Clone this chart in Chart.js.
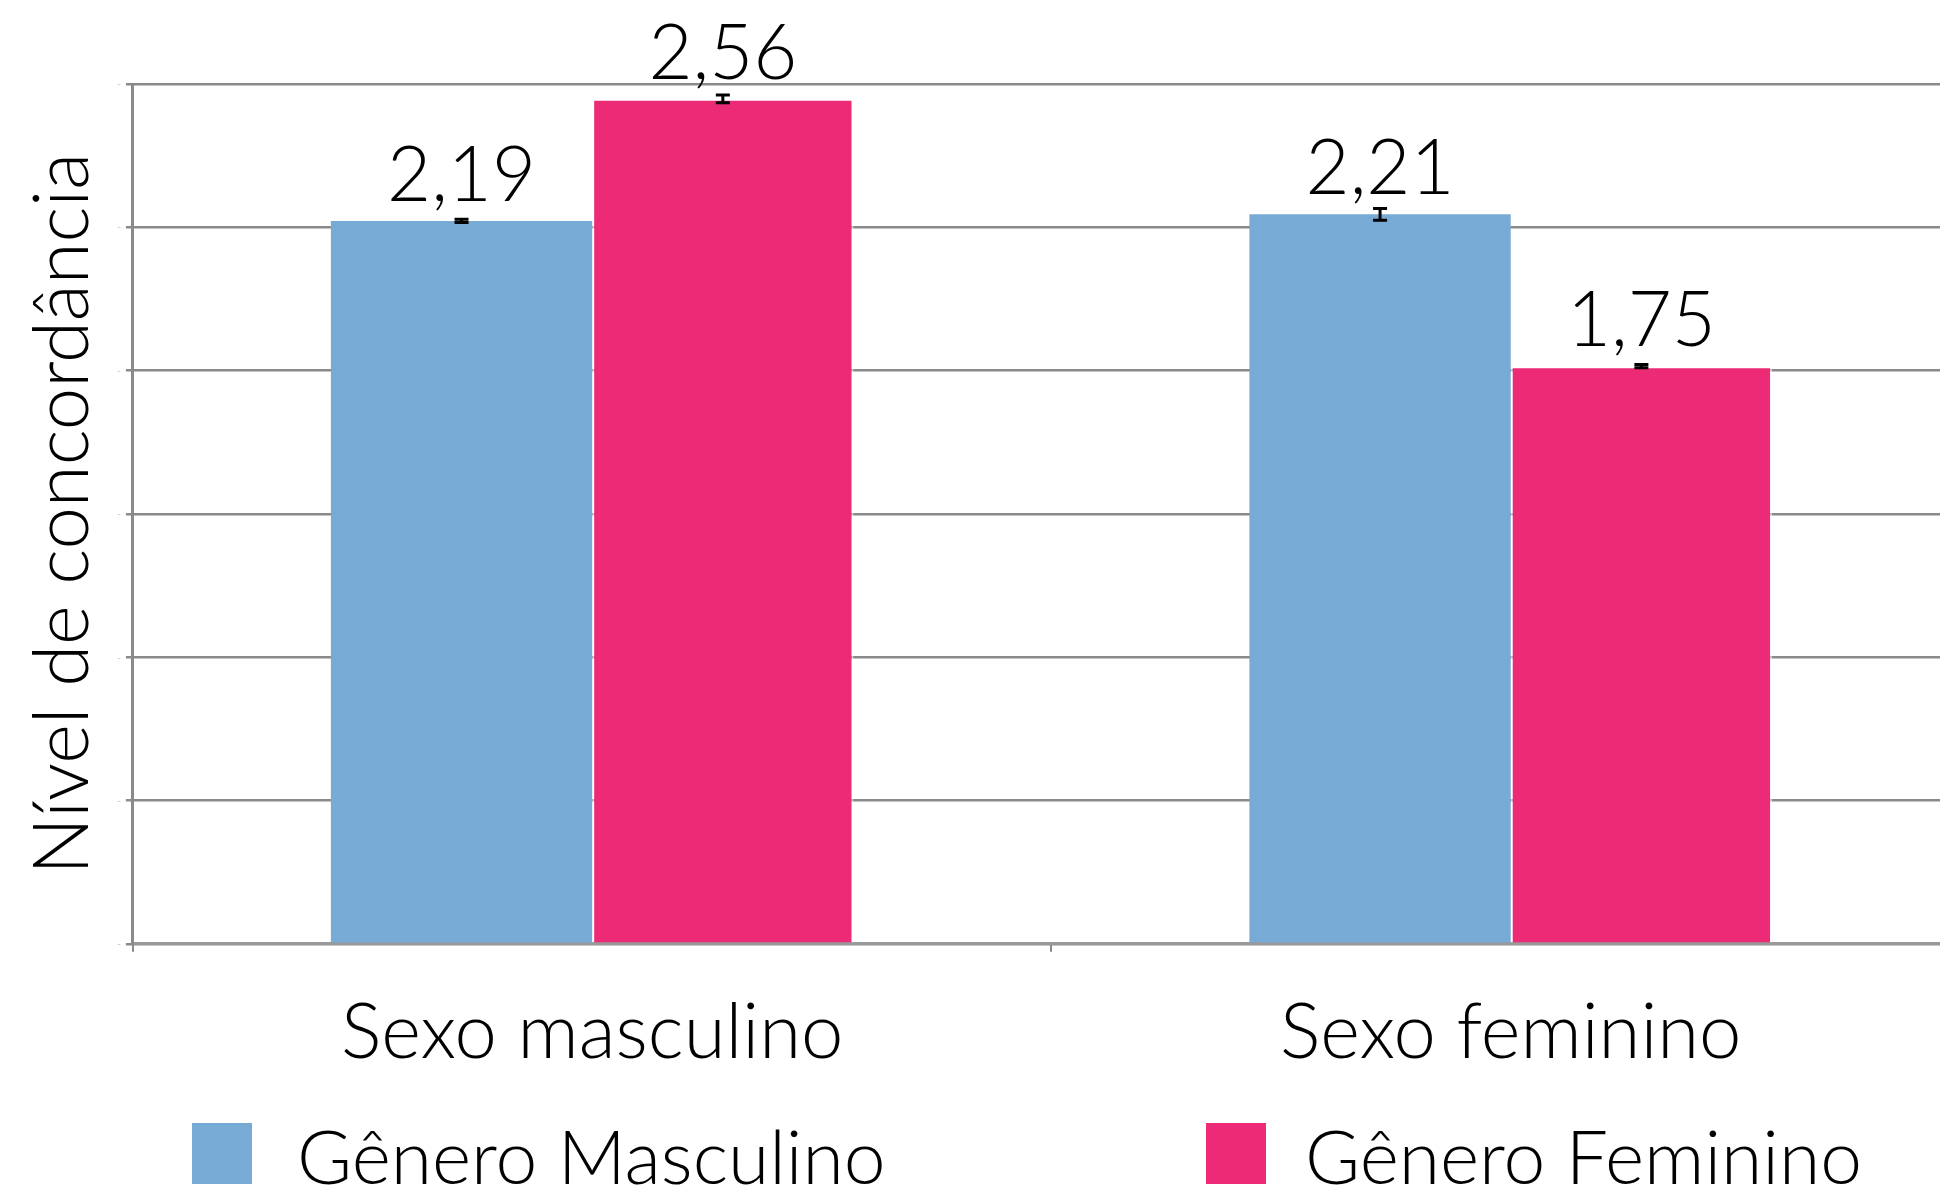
<!DOCTYPE html>
<html>
<head>
<meta charset="utf-8">
<script src="https://cdn.jsdelivr.net/npm/chart.js@4.4.0/dist/chart.umd.min.js"></script>
<style>
  html, body { margin: 0; padding: 0; background: #fff; overflow: hidden; }
  #wrap { width: 1975px; height: 1189px; }
</style>
</head>
<body>
<div id="wrap"><canvas id="chart"></canvas></div>
<script>
// dados
const categorias = ['Sexo masculino', 'Sexo feminino'];
const generoMasculino = [2.19, 2.21];
const generoFeminino = [2.56, 1.75];
const erroMasculino = [0.005, 0.018];
const erroFeminino = [0.012, 0.005];
const linhasGrade = [0, 0.434, 0.868, 1.302, 1.737, 2.171, 2.605];

const FONT = 'Lato';
const corAzul = '#78aad6';
const corRosa = '#ec2a76';

// rótulos de valor + barras de erro
const valoresPlugin = {
  id: 'valores',
  afterDatasetsDraw(chart) {
    const ctx = chart.ctx;
    const y = chart.scales.y;
    chart.data.datasets.forEach((ds, i) => {
      const meta = chart.getDatasetMeta(i);
      meta.data.forEach((bar, j) => {
        const v = ds.data[j];
        const e = ds.erros[j];
        const top = y.getPixelForValue(v + e);
        const bot = y.getPixelForValue(v - e);
        ctx.save();
        ctx.strokeStyle = '#000';
        ctx.lineWidth = 3;
        ctx.beginPath();
        ctx.moveTo(bar.x, top); ctx.lineTo(bar.x, bot);
        ctx.moveTo(bar.x - 7, top); ctx.lineTo(bar.x + 7, top);
        ctx.moveTo(bar.x - 7, bot); ctx.lineTo(bar.x + 7, bot);
        ctx.stroke();
        ctx.fillStyle = '#000';
        ctx.font = '300 76px ' + FONT;
        ctx.textAlign = 'center';
        ctx.textBaseline = 'alphabetic';
        ctx.fillText(v.toFixed(2).replace('.', ','), bar.x, bar.y - 20);
        ctx.restore();
      });
    });
  }
};

// legenda desenhada à mão, para ficar espaçada como no original
const legendaPlugin = {
  id: 'legenda',
  afterDraw(chart, args, opts) {
    const ctx = chart.ctx;
    chart.data.datasets.forEach((ds, i) => {
      const x = opts.xs[i];
      ctx.save();
      ctx.fillStyle = ds.backgroundColor;
      ctx.fillRect(x, opts.y - 61, 60, 61);
      ctx.fillStyle = '#000';
      ctx.font = '300 75px ' + FONT;
      ctx.textAlign = 'left';
      ctx.textBaseline = 'alphabetic';
      ctx.fillText(ds.label, x + opts.gap[i], opts.y);
      ctx.restore();
    });
  }
};

new Chart(document.getElementById('chart'), {
  type: 'bar',
  data: {
    labels: categorias,
    datasets: [
      {
        label: 'Gênero Masculino',
        data: generoMasculino,
        erros: erroMasculino,
        backgroundColor: corAzul,
        borderWidth: 0
      },
      {
        label: 'Gênero Feminino',
        data: generoFeminino,
        erros: erroFeminino,
        backgroundColor: corRosa,
        borderColor: 'rgba(255,255,255,0.55)',
        borderWidth: 2
      }
    ]
  },
  options: {
    responsive: true,
    maintainAspectRatio: false,
    animation: false,
    layout: { padding: { top: 84, left: 15, right: 5, bottom: 74 } },
    categoryPercentage: 0.569,
    barPercentage: 1.0,
    plugins: {
      legend: { display: false },
      tooltip: { enabled: false },
      legenda: { xs: [192, 1206], y: 1184, gap: [105, 99] }
    },
    scales: {
      x: {
        grid: {
          display: true,
          drawOnChartArea: false,
          offset: true,
          tickLength: 8,
          color: '#8a8a8a',
          lineWidth: 2
        },
        border: { display: true, color: '#999', width: 3 },
        ticks: {
          color: '#000',
          padding: 36,
          font: { family: FONT, size: 76, weight: '300' }
        }
      },
      y: {
        min: 0,
        max: 2.605,
        afterBuildTicks(axis) {
          axis.ticks = linhasGrade.map(v => ({ value: v }));
        },
        grid: {
          color: '#8a8a8a',
          lineWidth: 2.5,
          tickLength: 7
        },
        border: { display: true, color: '#8a8a8a', width: 3 },
        ticks: {
          color: '#c0c0c0',
          padding: 5,
          font: { family: FONT, size: 10 },
          callback: () => '-'
        },
        title: {
          display: true,
          text: 'Nível de concordância',
          color: '#000',
          padding: { top: 3, bottom: 3 },
          font: { family: FONT, size: 76, weight: '300' }
        }
      }
    }
  },
  plugins: [valoresPlugin, legendaPlugin]
});
</script>
</body>
</html>
